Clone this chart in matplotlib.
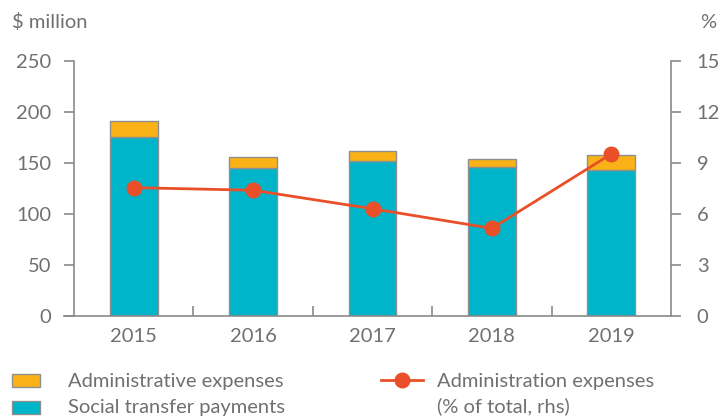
import matplotlib
matplotlib.use("Agg")
import matplotlib.pyplot as plt
from matplotlib.patches import Rectangle
from matplotlib.lines import Line2D
import numpy as np

years = ["2015", "2016", "2017", "2018", "2019"]
social = [175.6, 145.0, 151.8, 145.6, 142.7]
admin = [15.3, 11.0, 9.8, 7.8, 14.9]
admin_pct = [7.54, 7.39, 6.30, 5.15, 9.52]
left_ticks = [0, 50, 100, 150, 200, 250]
right_ticks = [0, 3, 6, 9, 12, 15]

ORANGE = "#FBB216"
TEAL = "#00B5C9"
EDGE = "#8F8F8F"
RED = "#E9502A"
TXT = "#707070"
AX = "#8A8A8A"
FONT = ["Lato", "DejaVu Sans"]
FS = 14.5

plt.rcParams["font.family"] = FONT

fig = plt.figure(figsize=(7.2, 4.17), dpi=100)
ax = fig.add_axes([74/720, 1-316/417, (671-74)/720, (316-60.7)/417])
x = np.arange(len(years))

ax.bar(x, social, width=0.4, color=TEAL, edgecolor=EDGE, linewidth=1.0, zorder=2)
ax.bar(x, admin, bottom=social, width=0.4, color=ORANGE, edgecolor=EDGE, linewidth=1.0, zorder=2)

ax.set_xlim(-0.5, 4.5)
ax.set_ylim(0, 250)
ax.set_yticks(left_ticks)
ax.set_xticks(x)
ax.set_xticklabels(years)
ax.set_xticks(np.arange(0.5, 4.0, 1.0), minor=True)

for s in ["top", "right"]:
    ax.spines[s].set_visible(False)
for s in ["left", "bottom"]:
    ax.spines[s].set_color(AX)
    ax.spines[s].set_linewidth(1.2)

ax.tick_params(axis="y", direction="out", length=7.5, width=1.2, color=AX,
               labelcolor=TXT, labelsize=FS, pad=9)
ax.tick_params(axis="x", which="major", length=0, labelcolor=TXT, labelsize=FS, pad=9)
ax.tick_params(axis="x", which="minor", direction="in", length=7.5, width=1.2, color=AX)

ax2 = ax.twinx()
ax2.set_ylim(0, 15)
ax2.set_yticks(right_ticks)
for s in ["top", "left", "bottom"]:
    ax2.spines[s].set_visible(False)
ax2.spines["right"].set_color(AX)
ax2.spines["right"].set_linewidth(1.2)
ax2.tick_params(axis="y", direction="out", length=7.5, width=1.2, color=AX,
                labelcolor=TXT, labelsize=FS, pad=11)
ax2.plot(x, admin_pct, color=RED, linewidth=2.0, marker="o", markersize=10.5,
         zorder=5, clip_on=False)

# extend x-axis line left to the outer tick
ax.plot([-0.5 - 10/119.4, -0.5], [0, 0], color=AX, linewidth=1.2, clip_on=False)

fig.text(12/720, 1-22/417, "$ million", color=TXT, fontsize=FS, va="center", ha="left")
fig.text(716/720, 1-22/417, "%", color=TXT, fontsize=FS, va="center", ha="right")

# legend
def fx(px):
    return px/720
def fy(py):
    return 1-py/417

fig.patches.append(Rectangle((fx(12), fy(387)), 28/720, 13/417, transform=fig.transFigure,
                             facecolor=ORANGE, edgecolor=EDGE, linewidth=1.0))
fig.patches.append(Rectangle((fx(12), fy(414)), 28/720, 13/417, transform=fig.transFigure,
                             facecolor=TEAL, edgecolor=EDGE, linewidth=1.0))
fig.text(fx(68), fy(381), "Administrative expenses", color=TXT, fontsize=FS, va="center")
fig.text(fx(68), fy(408), "Social transfer payments", color=TXT, fontsize=FS, va="center")
fig.lines.append(Line2D([fx(381), fx(423)], [fy(380), fy(380)], transform=fig.transFigure,
                        color=RED, linewidth=2.0, marker=None))
fig.lines.append(Line2D([fx(402)], [fy(380)], transform=fig.transFigure,
                        color=RED, marker="o", markersize=10.5))
fig.text(fx(437), fy(381), "Administration expenses", color=TXT, fontsize=FS, va="center")
fig.text(fx(437), fy(406), "(% of total, rhs)", color=TXT, fontsize=FS, va="center")

fig.savefig("out.png", dpi=100)
